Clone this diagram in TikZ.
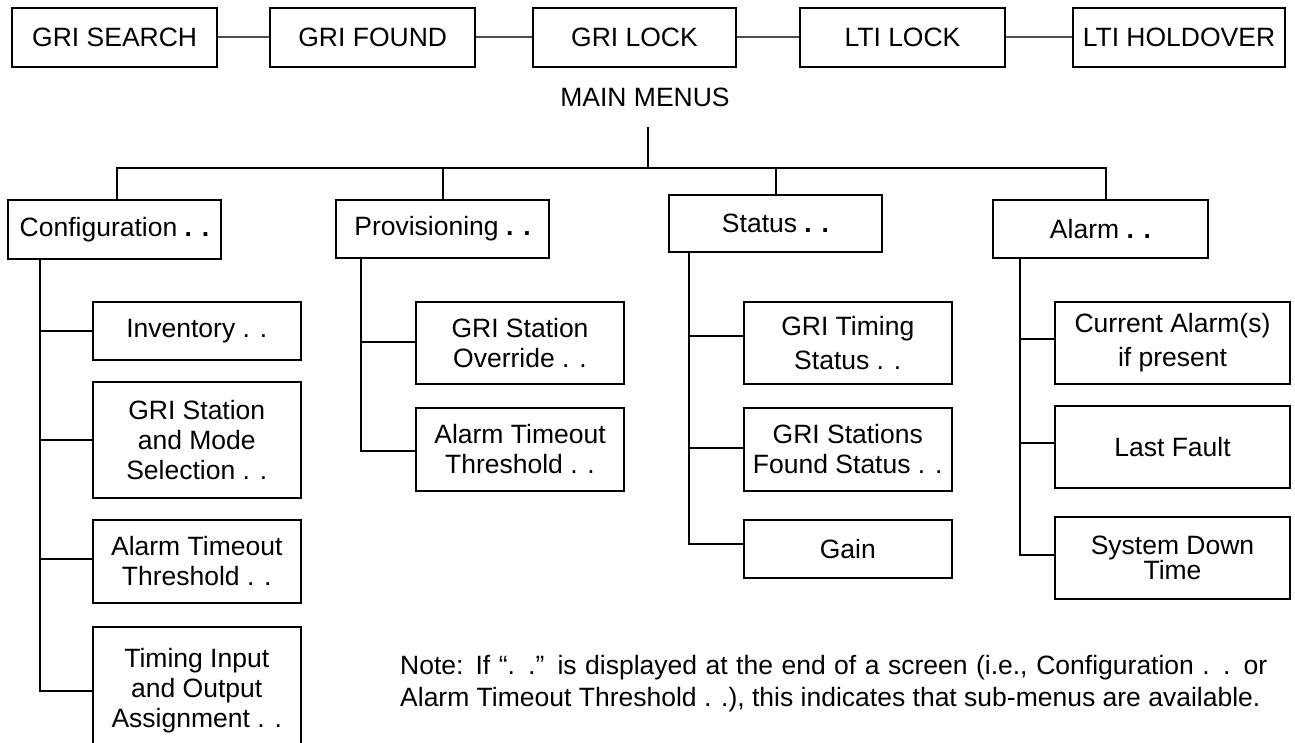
\documentclass[tikz,border=0pt]{standalone}
\usepackage{fontspec}
\setmainfont{Liberation Sans}
\usetikzlibrary{calc}
\begin{document}
\begin{tikzpicture}[x=1pt,y=-1pt,
  txt/.style={font=\fontsize{26.5}{30}\selectfont, inner sep=0pt},
  menubox/.style={txt, draw, line width=2pt, align=center},
  statebox/.style={menubox, minimum height=59pt},
  tree/.style={line width=2pt},
  link/.style={line width=1.4pt, draw=black!70}]
\useasboundingbox (0,0) rectangle (1295,742);

% --- clock state sequence across the top ---
\node[statebox, minimum width=204.6pt] (s1) at (114.7,37) {GRI SEARCH};
\node[statebox, minimum width=204.5pt] (s2) at (372.7,37) {GRI FOUND};
\node[statebox, minimum width=203pt]   (s3) at (634.5,37) {GRI LOCK};
\node[statebox, minimum width=205pt]   (s4) at (902.5,37) {LTI LOCK};
\node[statebox, minimum width=212pt]   (s5) at (1179,37)  {LTI HOLDOVER};
\draw[link] (s1.east) -- (s2.west);
\draw[link] (s2.east) -- (s3.west);
\draw[link] (s3.east) -- (s4.west);
\draw[link] (s4.east) -- (s5.west);

% --- main menu level ---
\node[txt] (mm) at (645,97) {MAIN MENUS};
\coordinate (mmb) at (648,127);
\coordinate (hub) at (648,168);

\node[menubox, minimum width=212.4pt, minimum height=59pt] (cfg) at (114.5,229.5) {Configuration \textbf{. .}};
\node[menubox, minimum width=213pt, minimum height=58pt] (prv) at (442.5,229) {Provisioning \textbf{. .}};
\node[menubox, minimum width=213pt, minimum height=57pt] (sts) at (775.5,223.5) {Status \textbf{. .}};
\node[menubox, minimum width=215pt, minimum height=58pt] (alm) at (1100.5,229) {Alarm \textbf{. .}};

\draw[tree] (mmb) -- (hub);
\draw[tree] ([xshift=2pt]cfg.north) |- (hub) -| ([xshift=5.5pt]alm.north);
\draw[tree] (prv.north) -- (prv.north |- hub);
\draw[tree] (sts.north) -- (sts.north |- hub);

% --- Configuration sub-menus ---
\node[menubox, minimum width=208.5pt, minimum height=58.3pt] (inv) at (196.75,330.85) {Inventory . .};
\node[menubox, minimum width=208.5pt, minimum height=116.6pt] (gsm) at (196.75,440) {GRI Station\\and Mode\\Selection . .};
\node[menubox, minimum width=208.5pt, minimum height=82.7pt] (att1) at (196.75,561.35) {Alarm Timeout\\Threshold . .};
\node[menubox, minimum width=208.5pt, minimum height=128pt] (tio) at (196.75,690.7) {Timing Input\\and Output\\Assignment . .};
\coordinate (cfgt) at ($(cfg.south west)+(32.2,0)$);
\draw[tree] (cfgt) |- (inv.west);
\draw[tree] (cfgt) |- (gsm.west);
\draw[tree] (cfgt) |- ([yshift=2pt]att1.west);
\draw[tree] (cfgt) |- (tio.west);

% --- Provisioning sub-menus ---
\node[menubox, minimum width=208pt, minimum height=82.3pt] (gso) at (520,342.85) {GRI Station\\Override . .};
\node[menubox, minimum width=208pt, minimum height=83pt] (att2) at (520,449.2) {Alarm Timeout\\Threshold . .};
\coordinate (prvt) at ($(prv.south west)+(26,0)$);
\draw[tree] (prvt) |- ([yshift=1pt]gso.west);
\draw[tree] (prvt) |- ([yshift=-1.5pt]att2.west);

% --- Status sub-menus ---
\node[menubox, minimum width=208pt, minimum height=82.3pt, font=\fontsize{26.5}{34}\selectfont] (gts) at (847.75,342.85) {GRI Timing\\Status . .};
\node[menubox, minimum width=208pt, minimum height=83pt] (gsf) at (847.75,449.2) {GRI Stations\\Found Status . .};
\node[menubox, minimum width=208pt, minimum height=58.3pt] (gain) at (847.75,549.15) {Gain};
\coordinate (stst) at ($(sts.south west)+(21,0)$);
\draw[tree] (stst) |- ([yshift=7pt]gts.west);
\draw[tree] (stst) |- ([yshift=1.5pt]gsf.west);
\draw[tree] (stst) |- ([yshift=5pt]gain.west);

% --- Alarm sub-menus ---
\node[menubox, minimum width=234.3pt, minimum height=82.3pt, font=\fontsize{26.5}{34}\selectfont] (cur) at (1172.5,342.85) {Current Alarm(s)\\if present};
\node[menubox, minimum width=234.3pt, minimum height=82pt] (lf) at (1172.5,446.7) {Last Fault};
\node[menubox, minimum width=234.3pt, minimum height=82pt, font=\fontsize{26.5}{25}\selectfont] (sdt) at (1172.5,558.3) {System Down\\Time};
\coordinate (almt) at ($(alm.south west)+(28,0)$);
\draw[tree] (almt) |- ([yshift=4pt]cur.west);
\draw[tree] (almt) |- ([yshift=4pt]lf.west);
\draw[tree] (almt) |- ([yshift=3pt]sdt.west);

% --- explanatory note ---
\node[txt, anchor=west, align=left, font=\fontsize{26.5}{32}\selectfont] (note) at (400,684)
  {\hbox to 867pt{Note: If “. .” is displayed at the end of a screen (i.e., Configuration . . or}\\
   Alarm Timeout Threshold . .), this indicates that sub-menus are available.};
\end{tikzpicture}
\end{document}
